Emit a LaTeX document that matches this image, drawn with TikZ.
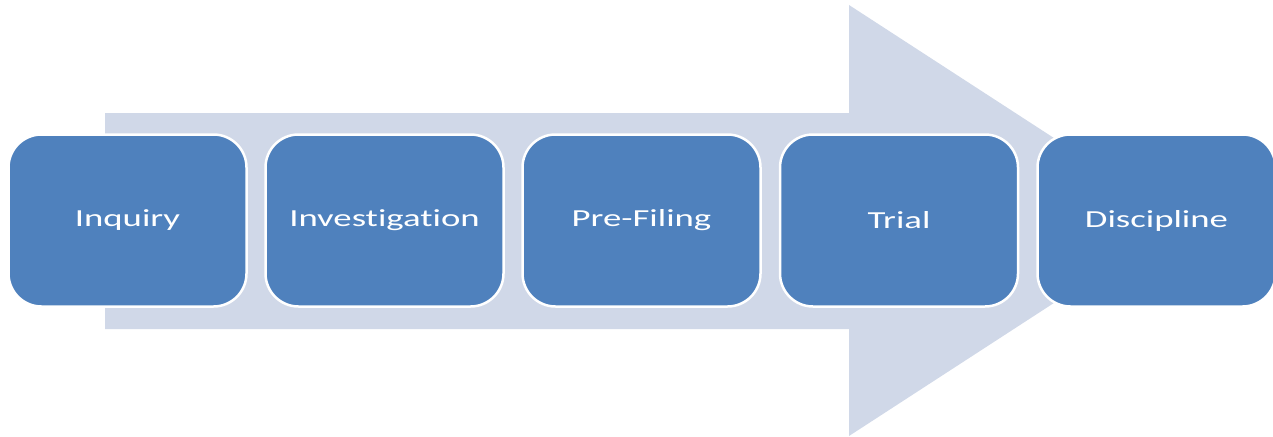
\documentclass[tikz,border=0pt]{standalone}
\usepackage{fontspec}
\usepackage{graphicx}
\setmainfont[Ligatures={NoCommon}]{Carlito}
\definecolor{boxblue}{HTML}{4F81BD}
\definecolor{arrowgray}{HTML}{D0D8E8}
\newcommand{\stretchtext}[1]{\scalebox{1.5}[1]{#1}}
\begin{document}
\begin{tikzpicture}[x=1pt,y=-1pt,
  stagebox/.style={rectangle, rounded corners=33pt, fill=boxblue, draw=white,
    line width=2.5pt, minimum width=238pt, minimum height=172pt,
    text=white, font=\fontsize{24.5}{28}\selectfont, inner sep=0pt}]
\useasboundingbox (0,0) rectangle (1273,436);
\begin{scope}
\clip (0,0) rectangle (1273,436);
\fill[arrowgray] (105,113) -- (849,113) -- (849,5) -- (1181,220.5) -- (849,436)
  -- (849,329) -- (105,329) -- cycle;
\node[stagebox] (inquiry) at (127.5,220.5) {\stretchtext{Inquiry}};
\node[stagebox] (investigation) at (384.5,220.5) {\stretchtext{Investigation}};
\node[stagebox] (prefiling) at (641.5,220.5) {\stretchtext{Pre-Filing}};
\node[stagebox] (trial) at (899,220.5) {\stretchtext{Trial}};
\node[stagebox] (discipline) at (1156.5,220.5) {\stretchtext{Discipline}};
\end{scope}
\end{tikzpicture}
\end{document}
